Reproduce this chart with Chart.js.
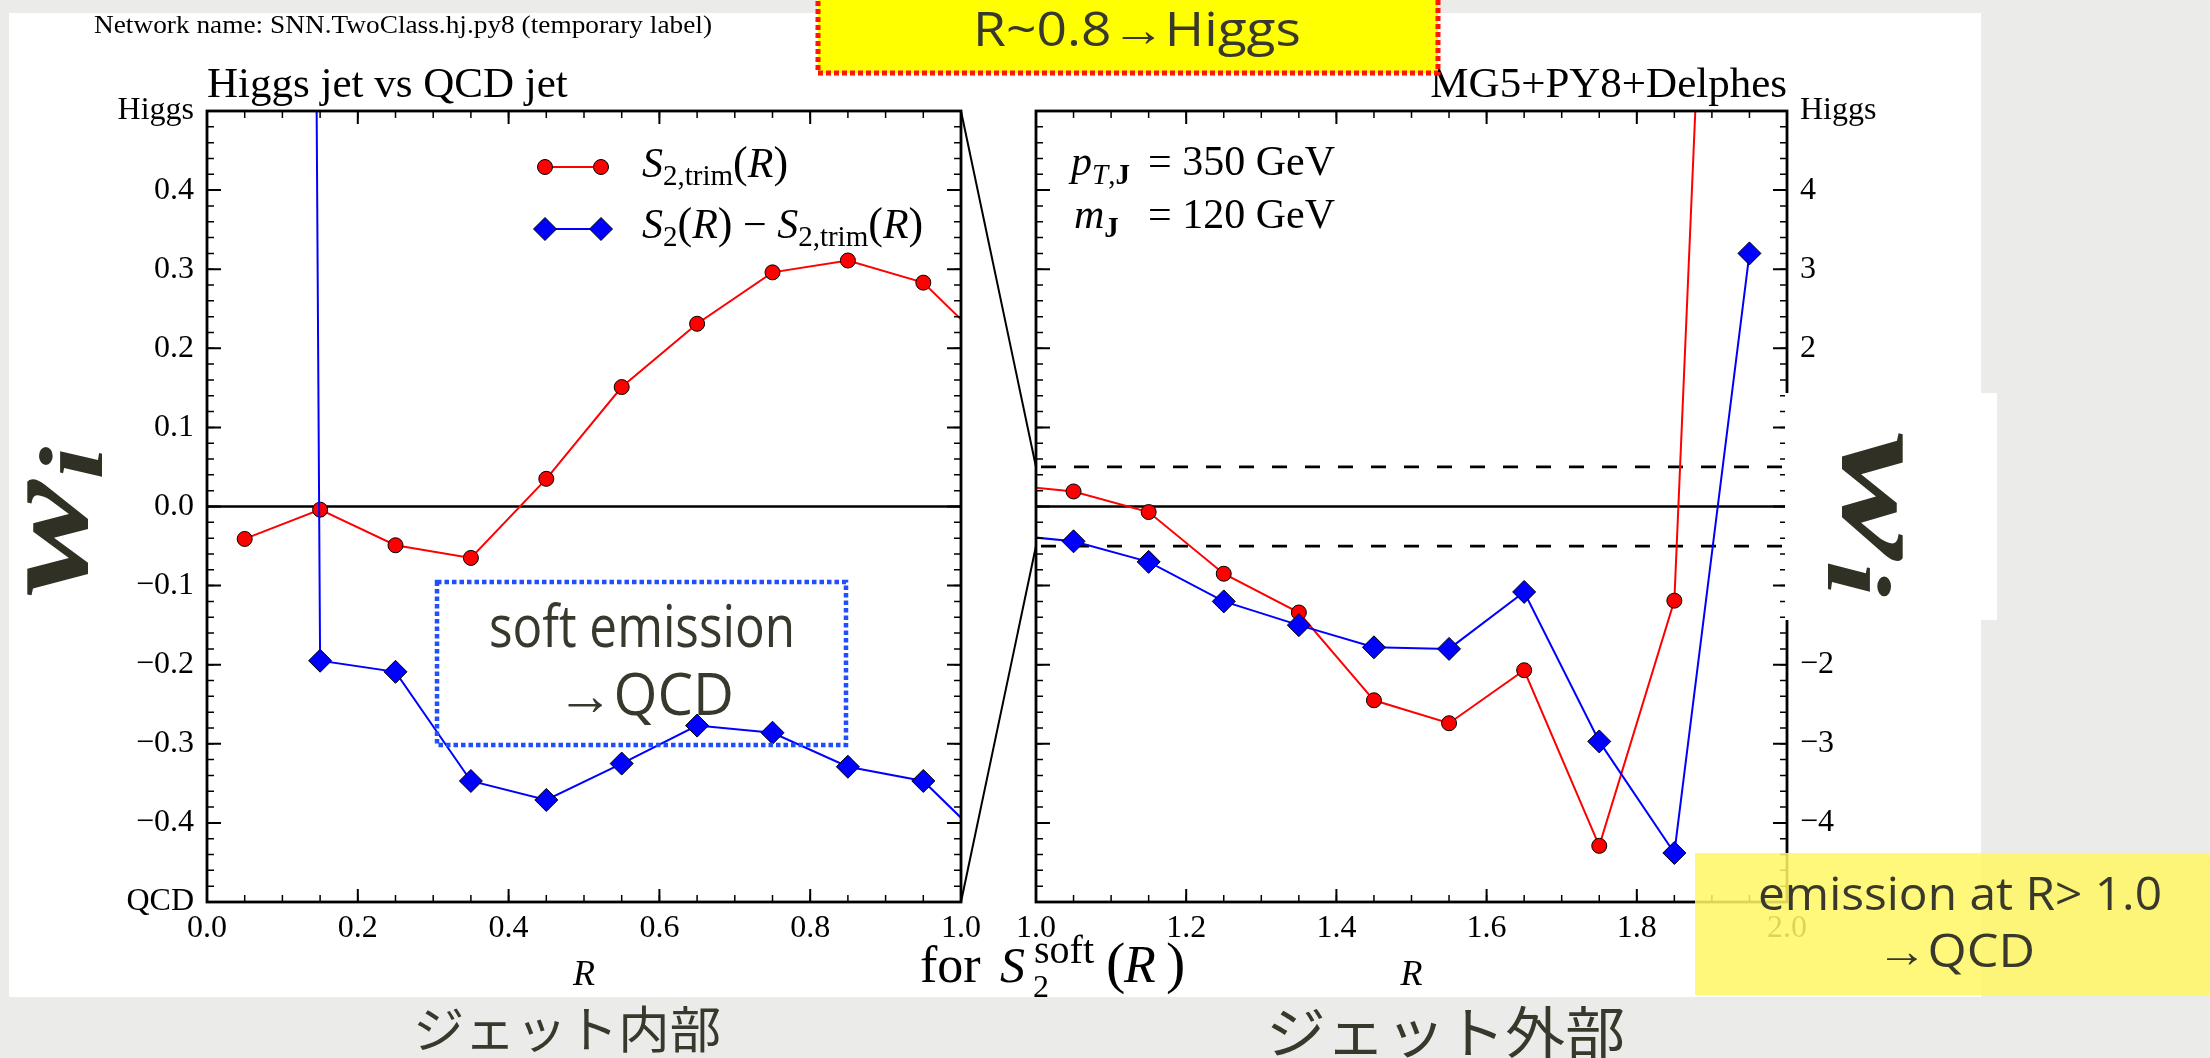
<!DOCTYPE html>
<html>
<head>
<meta charset="utf-8">
<script src="https://cdn.jsdelivr.net/npm/chart.js@4.4.1/dist/chart.umd.min.js"></script>
<style>
  html, body { margin: 0; padding: 0; }
  body { width: 2210px; height: 1058px; position: relative; overflow: hidden; background: #ebebe9; }
  #sheet { position: absolute; left: 9px; top: 13px; width: 1972px; height: 984px; background: #fff; }
  canvas { position: absolute; top: 0; }
  #left { left: 0; }
  #right { left: 1000px; }
  #deco { position: absolute; left: 0; top: 0; }
  .serif { font-family: "Liberation Serif", serif; }
  .sans { font-family: "Open Sans", sans-serif; fill: #38382c; }
  .jp { font-family: "Noto Sans CJK JP", sans-serif; fill: #38382c; }
</style>
</head>
<body>
<div id="sheet"></div>
<canvas id="left" width="1000" height="1058"></canvas>
<canvas id="right" width="1210" height="1058"></canvas>

<svg id="deco" width="2210" height="1058" viewBox="0 0 2210 1058">
  <line id="zoomTop" stroke="#000" stroke-width="2"/>
  <line id="zoomBot" stroke="#000" stroke-width="2"/>

  <text class="serif" x="94" y="33" font-size="25" textLength="618" lengthAdjust="spacingAndGlyphs">Network name: SNN.TwoClass.hj.py8 (temporary label)</text>

  <rect x="818" y="-20" width="620" height="93" fill="#ffff00" stroke="#ff1500" stroke-width="5" stroke-dasharray="5 3"/>
  <text class="sans" x="973" y="46" font-size="47" textLength="328" lengthAdjust="spacingAndGlyphs">R~0.8→Higgs</text>

  <rect x="437" y="582" width="409" height="163" fill="none" stroke="#1f4fff" stroke-width="4.5" stroke-dasharray="4.5 3"/>
  <text class="sans" x="489" y="647" font-size="58" textLength="306" lengthAdjust="spacingAndGlyphs">soft emission</text>
  <text class="sans" x="557" y="715" font-size="58" textLength="177" lengthAdjust="spacingAndGlyphs">→QCD</text>

  <text class="serif" transform="translate(87 521) rotate(-90)" text-anchor="middle" font-size="130" font-style="italic" font-weight="bold" fill="#303024" textLength="149" lengthAdjust="spacingAndGlyphs">w<tspan dy="15" font-size="90">i</tspan></text>

  <rect x="1785" y="393" width="212" height="227" fill="#fff"/>
  <text class="serif" transform="translate(1843 515) rotate(90)" text-anchor="middle" font-size="130" font-style="italic" font-weight="bold" fill="#303024" textLength="164" lengthAdjust="spacingAndGlyphs">w<tspan dy="15" font-size="90">i</tspan></text>

  <rect x="1695" y="853" width="515" height="142" fill="rgba(255,247,100,0.86)"/>
  <text class="sans" x="1758" y="910" font-size="46" textLength="404" lengthAdjust="spacingAndGlyphs">emission at R&gt; 1.0</text>
  <text class="sans" x="1877" y="967" font-size="46" textLength="158" lengthAdjust="spacingAndGlyphs">→QCD</text>

  <text class="serif" y="982" fill="#000">
    <tspan x="920" font-size="52">for</tspan>
    <tspan x="1000" font-size="50" font-style="italic">S</tspan>
    <tspan x="1033" y="997" font-size="32">2</tspan>
    <tspan x="1034" y="963" font-size="40">soft</tspan>
    <tspan x="1106" y="982" font-size="58">(</tspan>
    <tspan x="1124" font-size="52" font-style="italic">R</tspan>
    <tspan x="1166" font-size="58">)</tspan>
  </text>

  <text class="jp" x="413" y="1048" font-size="50" textLength="308" lengthAdjust="spacingAndGlyphs">ジェット内部</text>
  <text class="jp" x="1266" y="1053" font-size="56" textLength="359" lengthAdjust="spacingAndGlyphs">ジェット外部</text>
</svg>

<script>
// R values of the annuli, and the two network weights
const radiusR = [0.05, 0.15, 0.25, 0.35, 0.45, 0.55, 0.65, 0.75, 0.85, 0.95,
                 1.05, 1.15, 1.25, 1.35, 1.45, 1.55, 1.65, 1.75, 1.85, 1.95];
const s2Trim = [-0.041, -0.004, -0.049, -0.065, 0.035, 0.151, 0.231, 0.296, 0.311, 0.283,
                0.19, -0.07, -0.85, -1.34, -2.45, -2.74, -2.07, -4.29, -1.19, 21];
const s2Diff = [15, -0.195, -0.209, -0.347, -0.371, -0.325, -0.277, -0.286, -0.329, -0.347,
                -0.44, -0.70, -1.20, -1.50, -1.78, -1.80, -1.08, -2.97, -4.38, 3.2];

const innerR = [0, 1];
const outerR = [1, 2];
const innerRange = [-0.5, 0.5];
const outerRange = [-5, 5];
const sideLabels = ['QCD', 'Higgs'];

const SERIF = '"Liberation Serif", serif';
const fmt = (v, d) => {
  if (Math.abs(v) < 1e-9) v = 0;
  return v.toFixed(d).replace('-', '\u2212');
};
const pts = ys => radiusR.map((r, i) => ({ x: r, y: ys[i] }));
const hline = (xr, y) => [{ x: xr[0], y: y }, { x: xr[1], y: y }];

function runs(ctx, x, y, parts) {
  for (const [txt, font, dy] of parts) {
    ctx.font = font;
    ctx.fillText(txt, x, y + (dy || 0));
    x += ctx.measureText(txt).width;
  }
  return x;
}

const IT = sz => `italic ${sz}px ${SERIF}`;
const UP = sz => `${sz}px ${SERIF}`;
const BD = sz => `bold ${sz}px ${SERIF}`;

const frame = {
  id: 'frame',
  afterDatasetsDraw(chart, args, o) {
    const { ctx, chartArea: a, scales: { x, y } } = chart;
    ctx.save();
    ctx.strokeStyle = '#000';
    const mark = (scale, step, len, lw, horiz) => {
      ctx.lineWidth = lw;
      ctx.beginPath();
      const n = Math.round((scale.max - scale.min) / step);
      for (let i = 0; i <= n; i++) {
        const p = scale.getPixelForValue(scale.min + i * step);
        if (horiz) {
          ctx.moveTo(p, a.bottom); ctx.lineTo(p, a.bottom - len);
          ctx.moveTo(p, a.top); ctx.lineTo(p, a.top + len);
        } else {
          ctx.moveTo(a.left, p); ctx.lineTo(a.left + len, p);
          ctx.moveTo(a.right, p); ctx.lineTo(a.right - len, p);
        }
      }
      ctx.stroke();
    };
    mark(x, o.xMinor, 7, 1.5, true);
    mark(x, o.xMajor, 13, 2, true);
    mark(y, o.yMinor, 7, 1.5, false);
    mark(y, o.yMajor, 14, 2, false);
    ctx.lineWidth = 2.8;
    ctx.strokeRect(a.left, a.top, a.right - a.left, a.bottom - a.top);
    ctx.restore();
  },
  afterDraw(chart, args, o) {
    const { ctx, chartArea: a } = chart;
    ctx.save();
    ctx.fillStyle = '#000';
    ctx.textBaseline = 'alphabetic';
    ctx.font = UP(43);
    ctx.textAlign = o.titleAlign;
    ctx.fillText(o.title, o.titleAlign === 'left' ? a.left : a.right, 97);
    ctx.font = IT(36);
    ctx.textAlign = 'center';
    ctx.fillText('R', (a.left + a.right) / 2, 985);
    ctx.textAlign = 'left';

    if (o.legend) {
      const ds = chart.data.datasets;
      const rows = [
        { d: ds[1], y: 167, base: 177,
          parts: [['S', IT(42)], ['2,trim', UP(29), 8], ['(', UP(44)], ['R', IT(42)], [')', UP(44)]] },
        { d: ds[0], y: 229, base: 238,
          parts: [['S', IT(42)], ['2', UP(29), 8], ['(', UP(44)], ['R', IT(42)], [')', UP(44)],
                  [' \u2212 ', UP(42)], ['S', IT(42)], ['2,trim', UP(29), 8], ['(', UP(44)], ['R', IT(42)], [')', UP(44)]] }
      ];
      for (const r of rows) {
        const x0 = a.left + 338, x1 = a.left + 394;
        ctx.strokeStyle = r.d.borderColor;
        ctx.lineWidth = 2;
        ctx.beginPath(); ctx.moveTo(x0, r.y); ctx.lineTo(x1, r.y); ctx.stroke();
        ctx.fillStyle = r.d.pointBackgroundColor;
        ctx.strokeStyle = '#000';
        ctx.lineWidth = 1;
        for (const px of [x0, x1]) {
          Chart.helpers.drawPoint(ctx, { pointStyle: r.d.pointStyle, radius: r.d.pointRadius, borderWidth: 1, rotation: 0 }, px, r.y);
        }
        ctx.fillStyle = '#000';
        runs(ctx, a.left + 435, r.base, r.parts);
      }
    }

    if (o.note) {
      const xe = a.left + 112;
      runs(ctx, a.left + 35, 175, [['p', IT(42)], ['T', IT(29), 9], [',', UP(29), 9], ['J', BD(29), 9]]);
      runs(ctx, xe, 175, [['= 350 GeV', UP(42)]]);
      runs(ctx, a.left + 38, 228, [['m', IT(42)], ['J', BD(29), 9]]);
      runs(ctx, xe, 228, [['= 120 GeV', UP(42)]]);
    }
    ctx.restore();
  }
};

function panel(id, xr, yr, p) {
  const series = [
    { data: pts(s2Diff), borderColor: '#0000ff', pointBackgroundColor: '#0000ff',
      pointStyle: 'rectRot', pointRadius: 11.5, order: 1 },
    { data: pts(s2Trim), borderColor: '#ff0000', pointBackgroundColor: '#ff0000',
      pointStyle: 'circle', pointRadius: 7.5, order: 2 }
  ].map(d => Object.assign(d, { borderWidth: 2, pointBorderColor: '#000', pointBorderWidth: 1, tension: 0 }));

  const refs = [{ data: hline(xr, 0), borderColor: '#000', borderWidth: 2.4, pointRadius: 0, order: 5 }];
  if (p.dashed) {
    for (const v of innerRange) {
      refs.push({ data: hline(xr, v), borderColor: '#000', borderWidth: 2.7, borderDash: [15, 18],
                  borderDashOffset: -5, pointRadius: 0, order: 5 });
    }
  }

  const tickFont = { family: SERIF, size: 32 };
  return new Chart(document.getElementById(id), {
    type: 'line',
    data: { datasets: series.concat(refs) },
    options: {
      responsive: false,
      animation: false,
      devicePixelRatio: 1,
      events: [],
      layout: { padding: p.pad },
      plugins: {
        legend: { display: false },
        tooltip: { enabled: false },
        frame: p.frame
      },
      scales: {
        x: {
          type: 'linear', min: xr[0], max: xr[1],
          grid: { display: false, drawTicks: false }, border: { display: false },
          ticks: { stepSize: 0.2, autoSkip: false, maxRotation: 0, padding: 7, color: '#000', font: tickFont,
                   callback: v => fmt(v, 1) },
          afterFit: s => { s.height = 156; }
        },
        y: {
          type: 'linear', position: p.yPos, min: yr[0], max: yr[1],
          grid: { display: false, drawTicks: false }, border: { display: false },
          ticks: { stepSize: p.frame.yMajor, autoSkip: false, padding: 13, color: '#000', font: tickFont,
                   callback: p.yLabel },
          afterFit: s => { s.width = p.yWidth; }
        }
      }
    },
    plugins: [frame]
  });
}

const inner = panel('left', innerR, innerRange, {
  pad: { left: 0, top: 111, right: 39, bottom: 0 },
  yPos: 'left', yWidth: 207,
  yLabel: v => v >= 0.499 ? sideLabels[1] : v <= -0.499 ? sideLabels[0] : fmt(v, 1),
  frame: { xMajor: 0.2, xMinor: 0.05, yMajor: 0.1, yMinor: 0.02,
           title: 'Higgs jet vs QCD jet', titleAlign: 'left', legend: true }
});

const outer = panel('right', outerR, outerRange, {
  pad: { left: 36, top: 111, right: 0, bottom: 0 },
  yPos: 'right', yWidth: 423, dashed: true,
  yLabel: v => v >= 4.99 ? sideLabels[1] : v <= -4.99 ? '' : fmt(v, 0),
  frame: { xMajor: 0.2, xMinor: 0.05, yMajor: 1, yMinor: 0.2,
           title: 'MG5+PY8+Delphes', titleAlign: 'right', note: true }
});

// zoom lines joining the inner panel's corners to its range in the outer panel
const offset = 1000;
const setLine = (id, yv) => {
  const el = document.getElementById(id);
  el.setAttribute('x1', inner.scales.x.getPixelForValue(innerR[1]));
  el.setAttribute('y1', inner.scales.y.getPixelForValue(yv));
  el.setAttribute('x2', offset + outer.scales.x.getPixelForValue(outerR[0]));
  el.setAttribute('y2', outer.scales.y.getPixelForValue(yv));
};
setLine('zoomTop', innerRange[1]);
setLine('zoomBot', innerRange[0]);
</script>
</body>
</html>
